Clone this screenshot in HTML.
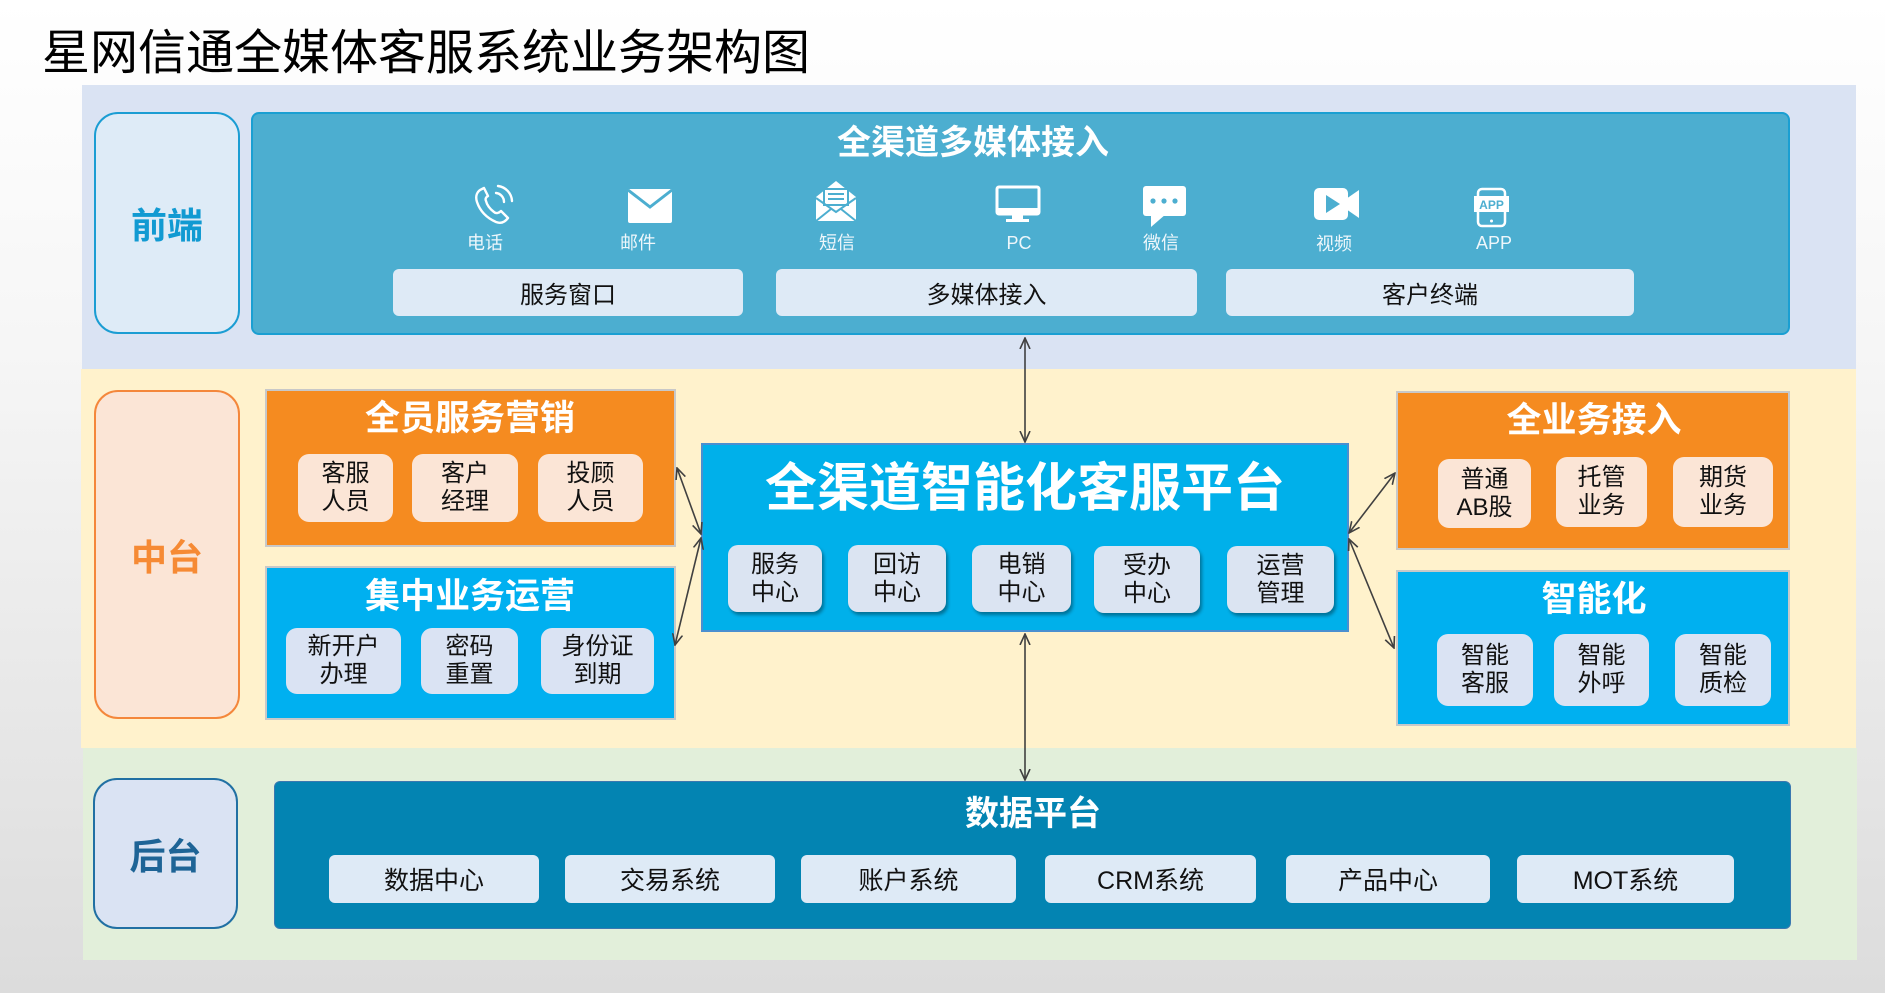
<!DOCTYPE html>
<html><head><meta charset="utf-8"><style>
*{margin:0;padding:0;box-sizing:border-box}
html,body{width:1885px;height:993px;overflow:hidden}
body{position:relative;font-family:"Liberation Sans","Noto Sans CJK SC",sans-serif;background:linear-gradient(#ffffff 0%,#f6f6f6 35%,#e6e6e6 75%,#dcdcdc 100%)}
.a{position:absolute}
.b{position:absolute;display:flex;align-items:center;justify-content:center;text-align:center}
.t{position:absolute;text-align:center;color:#fff;font-weight:bold;white-space:nowrap}
.sb{font-size:24px;line-height:28px;color:#111;border-radius:11px}
.lb{font-size:18px;color:#eef7fb;white-space:nowrap}
</style></head><body>

<div class="a" style="left:42px;top:20px;font-size:48px;line-height:56px;color:#000;white-space:nowrap;font-family:'Noto Sans CJK SC',sans-serif;">星网信通全媒体客服系统业务架构图</div>

<!-- bands -->
<div class="a" style="left:82px;top:85px;width:1774px;height:284px;background:#dae3f3"></div>
<div class="a" style="left:81px;top:369px;width:1775px;height:379px;background:#fff2cc"></div>
<div class="a" style="left:83px;top:748px;width:1774px;height:212px;background:#e2efda"></div>

<!-- left labels -->
<div class="b" style="left:94px;top:112px;width:146px;height:222px;background:#deebf7;border:2px solid #1b9dd3;border-radius:24px;color:#119ad2;font-size:36px;font-weight:bold">前端</div>
<div class="b" style="left:94px;top:390px;width:146px;height:329px;background:#fbe5d6;border:2px solid #f4873b;border-radius:24px;color:#f68a34;font-size:36px;font-weight:bold">中台</div>
<div class="b" style="left:93px;top:778px;width:145px;height:151px;background:#dae3f3;border:2px solid #2170a3;border-radius:24px;color:#1e6496;font-size:36px;font-weight:bold">后台</div>

<!-- front panel -->
<div class="a" style="left:251px;top:112px;width:1539px;height:223px;background:#4caed0;border:2px solid #1a9fd2;border-radius:8px"></div>
<div class="t" style="left:773px;top:121px;width:400px;font-size:34px;line-height:44px">全渠道多媒体接入</div>

<div class="t lb" style="left:445px;top:230px;width:80px;font-weight:normal;line-height:26px">电话</div>
<div class="t lb" style="left:598px;top:230px;width:80px;font-weight:normal;line-height:26px">邮件</div>
<div class="t lb" style="left:797px;top:230px;width:80px;font-weight:normal;line-height:26px">短信</div>
<div class="t lb" style="left:979px;top:230px;width:80px;font-weight:normal;line-height:26px">PC</div>
<div class="t lb" style="left:1121px;top:230px;width:80px;font-weight:normal;line-height:26px">微信</div>
<div class="t lb" style="left:1294px;top:231px;width:80px;font-weight:normal;line-height:26px">视频</div>
<div class="t lb" style="left:1454px;top:230px;width:80px;font-weight:normal;line-height:26px">APP</div>

<div class="b" style="left:393px;top:269px;width:350px;height:47px;background:#deeaf6;border-radius:6px;font-size:24px;color:#111">服务窗口</div>
<div class="b" style="left:776px;top:269px;width:421px;height:47px;background:#deeaf6;border-radius:6px;font-size:24px;color:#111">多媒体接入</div>
<div class="b" style="left:1226px;top:269px;width:408px;height:47px;background:#deeaf6;border-radius:6px;font-size:24px;color:#111">客户终端</div>

<!-- left middle boxes -->
<div class="a" style="left:265px;top:389px;width:411px;height:158px;background:#f58b20;border:2px solid #c8c8c8"></div>
<div class="t" style="left:270px;top:397px;width:400px;font-size:35px;line-height:44px">全员服务营销</div>
<div class="b sb" style="left:298px;top:454px;width:95px;height:68px;background:#fbe5d6">客服<br>人员</div>
<div class="b sb" style="left:412px;top:454px;width:106px;height:68px;background:#fbe5d6">客户<br>经理</div>
<div class="b sb" style="left:538px;top:454px;width:105px;height:68px;background:#fbe5d6">投顾<br>人员</div>

<div class="a" style="left:265px;top:566px;width:411px;height:154px;background:#00b0f0;border:2px solid #c8c8c8"></div>
<div class="t" style="left:270px;top:575px;width:400px;font-size:35px;line-height:44px">集中业务运营</div>
<div class="b sb" style="left:286px;top:628px;width:115px;height:66px;background:#dae3f3">新开户<br>办理</div>
<div class="b sb" style="left:421px;top:628px;width:97px;height:66px;background:#dae3f3">密码<br>重置</div>
<div class="b sb" style="left:541px;top:628px;width:113px;height:66px;background:#dae3f3">身份证<br>到期</div>

<!-- center -->
<div class="a" style="left:701px;top:443px;width:648px;height:189px;background:#00b0ea;border:2px solid #4a8fd0"></div>
<div class="t" style="left:701px;top:458px;width:648px;font-size:52px;line-height:62px">全渠道智能化客服平台</div>
<div class="b sb" style="left:728px;top:545px;width:94px;height:67px;background:#dbe4f2;border-radius:10px;box-shadow:2px 3px 3px rgba(0,0,0,.35)">服务<br>中心</div>
<div class="b sb" style="left:848px;top:545px;width:98px;height:67px;background:#dbe4f2;border-radius:10px;box-shadow:2px 3px 3px rgba(0,0,0,.35)">回访<br>中心</div>
<div class="b sb" style="left:972px;top:545px;width:99px;height:67px;background:#dbe4f2;border-radius:10px;box-shadow:2px 3px 3px rgba(0,0,0,.35)">电销<br>中心</div>
<div class="b sb" style="left:1094px;top:546px;width:106px;height:67px;background:#dbe4f2;border-radius:10px;box-shadow:2px 3px 3px rgba(0,0,0,.35)">受办<br>中心</div>
<div class="b sb" style="left:1227px;top:546px;width:107px;height:67px;background:#dbe4f2;border-radius:10px;box-shadow:2px 3px 3px rgba(0,0,0,.35)">运营<br>管理</div>

<!-- right middle boxes -->
<div class="a" style="left:1396px;top:391px;width:394px;height:159px;background:#f58b20;border:2px solid #c8c8c8"></div>
<div class="t" style="left:1394px;top:399px;width:400px;font-size:35px;line-height:44px">全业务接入</div>
<div class="b sb" style="left:1438px;top:459px;width:93px;height:69px;background:#fbe5d6">普通<br>AB股</div>
<div class="b sb" style="left:1556px;top:457px;width:91px;height:70px;background:#fbe5d6">托管<br>业务</div>
<div class="b sb" style="left:1673px;top:457px;width:100px;height:70px;background:#fbe5d6">期货<br>业务</div>

<div class="a" style="left:1396px;top:570px;width:394px;height:156px;background:#00b0f0;border:2px solid #c8c8c8"></div>
<div class="t" style="left:1394px;top:578px;width:400px;font-size:35px;line-height:44px">智能化</div>
<div class="b sb" style="left:1437px;top:634px;width:96px;height:72px;background:#dae3f3">智能<br>客服</div>
<div class="b sb" style="left:1554px;top:634px;width:95px;height:72px;background:#dae3f3">智能<br>外呼</div>
<div class="b sb" style="left:1675px;top:634px;width:96px;height:72px;background:#dae3f3">智能<br>质检</div>

<!-- back panel -->
<div class="a" style="left:274px;top:781px;width:1517px;height:148px;background:#0384b2;border:1px solid #3a78b0;border-radius:6px"></div>
<div class="t" style="left:883px;top:792px;width:300px;font-size:34px;line-height:44px">数据平台</div>
<div class="b" style="left:329px;top:855px;width:210px;height:48px;background:#deeaf6;border-radius:6px;font-size:25px;color:#111">数据中心</div>
<div class="b" style="left:565px;top:855px;width:210px;height:48px;background:#deeaf6;border-radius:6px;font-size:25px;color:#111">交易系统</div>
<div class="b" style="left:801px;top:855px;width:215px;height:48px;background:#deeaf6;border-radius:6px;font-size:25px;color:#111">账户系统</div>
<div class="b" style="left:1045px;top:855px;width:211px;height:48px;background:#deeaf6;border-radius:6px;font-size:25px;color:#111">CRM系统</div>
<div class="b" style="left:1286px;top:855px;width:204px;height:48px;background:#deeaf6;border-radius:6px;font-size:25px;color:#111">产品中心</div>
<div class="b" style="left:1517px;top:855px;width:217px;height:48px;background:#deeaf6;border-radius:6px;font-size:25px;color:#111">MOT系统</div>

<!-- icons and arrows -->
<svg class="a" style="left:0;top:0" width="1885" height="993" viewBox="0 0 1885 993">
<defs>
<marker id="ah" viewBox="0 0 12 12" refX="11" refY="6" markerWidth="12" markerHeight="12" markerUnits="userSpaceOnUse" orient="auto-start-reverse">
<path d="M0,1 L11,6 L0,11" fill="none" stroke="#404040" stroke-width="1.6"/>
</marker>
</defs>
<g stroke="#404040" stroke-width="1.6" fill="none">
<line x1="1025" y1="338" x2="1025" y2="442" marker-start="url(#ah)" marker-end="url(#ah)"/>
<line x1="1025" y1="634" x2="1025" y2="780" marker-start="url(#ah)" marker-end="url(#ah)"/>
<line x1="677" y1="468" x2="701" y2="534" marker-start="url(#ah)" marker-end="url(#ah)"/>
<line x1="701" y1="538" x2="675" y2="645" marker-start="url(#ah)" marker-end="url(#ah)"/>
<line x1="1349" y1="533" x2="1395" y2="473" marker-start="url(#ah)" marker-end="url(#ah)"/>
<line x1="1349" y1="539" x2="1394" y2="648" marker-start="url(#ah)" marker-end="url(#ah)"/>
</g>
<!-- phone -->
<g fill="none" stroke="#fff" stroke-width="2.4" stroke-linejoin="round" stroke-linecap="round">
<path d="M482,189 c-5,2 -7,7 -5,13 c3,9 10,16 19,20 c5,2 9,0 12,-4 l-7,-7 c-2,2 -5,3 -7,1 c-4,-3 -7,-7 -8,-11 c-1,-2 0,-4 2,-5 l-4,-8 z"/>
<path d="M496,193 a9,9 0 0 1 8,9"/>
<path d="M498,186 a16,16 0 0 1 14,15"/>
</g>
<!-- mail -->
<rect x="628" y="189" width="44" height="34" rx="2" fill="#fff"/>
<polyline points="628,190 650,207 672,190" fill="none" stroke="#4caed0" stroke-width="3"/>
<!-- sms -->
<polygon points="816,197 836,181 856,197 856,221 816,221" fill="#fff"/>
<rect x="824" y="189" width="24" height="16" fill="#fff" stroke="#4caed0" stroke-width="2"/>
<line x1="828" y1="194" x2="844" y2="194" stroke="#4caed0" stroke-width="2"/>
<line x1="828" y1="199" x2="844" y2="199" stroke="#4caed0" stroke-width="2"/>
<polyline points="816,198 836,212 856,198" fill="none" stroke="#4caed0" stroke-width="2"/>
<line x1="816" y1="221" x2="831" y2="209" stroke="#4caed0" stroke-width="2"/>
<line x1="856" y1="221" x2="841" y2="209" stroke="#4caed0" stroke-width="2"/>
<!-- pc -->
<rect x="997" y="187" width="42" height="27" rx="2" fill="none" stroke="#fff" stroke-width="3"/>
<rect x="997" y="208" width="42" height="6" fill="#fff"/>
<rect x="1012" y="214" width="11" height="5" fill="#fff"/>
<rect x="1006" y="219" width="23" height="3" fill="#fff"/>
<!-- wechat -->
<rect x="1143" y="186" width="43" height="30" rx="3" fill="#fff"/>
<polygon points="1151,214 1151,227 1166,214" fill="#fff"/>
<circle cx="1153" cy="201" r="2.6" fill="#4caed0"/>
<circle cx="1164" cy="201" r="2.6" fill="#4caed0"/>
<circle cx="1175" cy="201" r="2.6" fill="#4caed0"/>
<!-- video -->
<rect x="1314" y="188" width="34" height="32" rx="5" fill="#fff"/>
<polygon points="1346,199 1359,190 1359,218 1346,209" fill="#fff"/>
<polygon points="1326,195 1326,213 1340,204" fill="#4caed0"/>
<!-- app -->
<rect x="1478" y="189" width="27" height="37" rx="4" fill="none" stroke="#fff" stroke-width="2.5"/>
<rect x="1474" y="196" width="35" height="16" fill="#fff"/>
<text x="1491.5" y="209" text-anchor="middle" font-family="Liberation Sans, sans-serif" font-weight="bold" font-size="12" fill="#4caed0">APP</text>
<circle cx="1491.5" cy="221" r="1.5" fill="#fff"/>
</svg>
</body></html>
